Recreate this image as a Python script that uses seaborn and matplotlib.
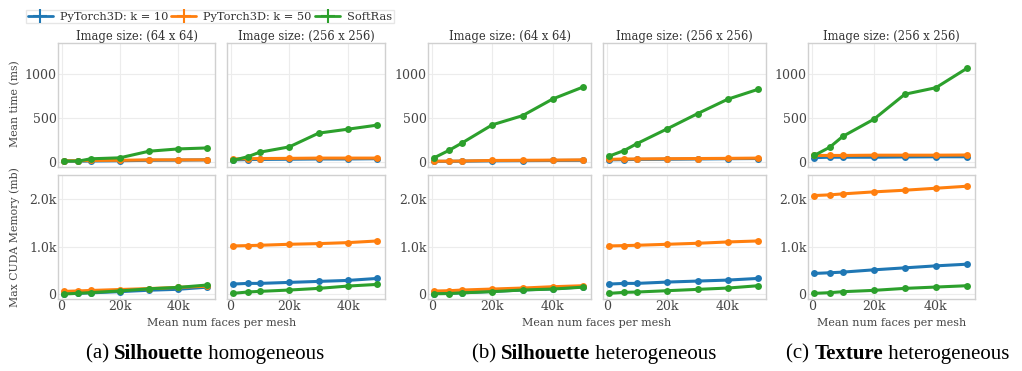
import matplotlib
matplotlib.use("Agg")
import matplotlib.pyplot as plt
import seaborn as sns
import pandas as pd
from matplotlib.lines import Line2D
from matplotlib.ticker import FuncFormatter, FixedLocator

# --- data ---
faces = [800, 5800, 10000, 20000, 30000, 40000, 50000]
methods = ["PyTorch3D: k = 10", "PyTorch3D: k = 50", "SoftRas"]
palette = ["#1f77b4", "#ff7f0e", "#2ca02c"]

# mean time (ms): [k=10, k=50, SoftRas]
time_sil_hom_64 = [[10, 10, 12, 15, 20, 22, 25],
                   [15, 15, 18, 20, 25, 25, 25],
                   [11, 11, 37, 48, 123, 149, 160]]
time_sil_hom_256 = [[25, 28, 30, 32, 35, 35, 38],
                    [35, 38, 40, 42, 45, 45, 45],
                    [19, 60, 112, 172, 328, 373, 419]]
time_sil_het_64 = [[8, 8, 10, 14, 16, 18, 20],
                   [10, 10, 12, 18, 20, 22, 25],
                   [48, 134, 216, 422, 526, 716, 851]]
time_sil_het_256 = [[25, 28, 30, 32, 35, 38, 40],
                    [30, 35, 35, 38, 40, 42, 45],
                    [67, 131, 209, 377, 549, 713, 825]]
time_tex_het_256 = [[50, 55, 55, 55, 58, 60, 60],
                    [75, 75, 75, 78, 78, 78, 80],
                    [75, 168, 291, 485, 769, 843, 1063]]

# max CUDA memory (mb): [k=10, k=50, SoftRas]
mem_sil_hom_64 = [[10, 15, 25, 50, 80, 100, 145],
                  [55, 65, 75, 95, 115, 140, 165],
                  [0, 15, 30, 65, 110, 140, 190]]
mem_sil_hom_256 = [[210, 224, 224, 245, 266, 287, 329],
                   [1014, 1021, 1028, 1049, 1063, 1084, 1119],
                   [14, 42, 56, 84, 119, 168, 203]]
mem_sil_het_64 = [[10, 15, 25, 55, 85, 110, 150],
                  [63, 70, 84, 105, 126, 154, 175],
                  [5, 10, 25, 50, 85, 105, 145]]
mem_sil_het_256 = [[210, 224, 224, 252, 273, 294, 329],
                   [1014, 1021, 1028, 1049, 1070, 1098, 1119],
                   [14, 35, 42, 70, 98, 126, 175]]
mem_tex_het_256 = [[434, 448, 462, 510, 552, 594, 629],
                   [2077, 2091, 2112, 2154, 2189, 2231, 2273],
                   [14, 28, 49, 77, 119, 147, 175]]

panel_titles = ["Image size: (64 x 64)", "Image size: (256 x 256)",
                "Image size: (64 x 64)", "Image size: (256 x 256)",
                "Image size: (256 x 256)"]
time_panels = [time_sil_hom_64, time_sil_hom_256, time_sil_het_64,
               time_sil_het_256, time_tex_het_256]
mem_panels = [mem_sil_hom_64, mem_sil_hom_256, mem_sil_het_64,
              mem_sil_het_256, mem_tex_het_256]


def to_long(series):
    rows = []
    for m, vals in zip(methods, series):
        for x, v in zip(faces, vals):
            rows.append({"faces": x, "value": v, "method": m})
    return pd.DataFrame(rows)


# --- theme ---
sns.set_theme(style="whitegrid")
plt.rcParams.update({
    "font.family": ["DejaVu Serif"],
    "axes.edgecolor": "#d0d0d0",
    "axes.linewidth": 1.0,
    "grid.color": "#ececec",
    "grid.linewidth": 0.8,
    "xtick.color": "#444444",
    "ytick.color": "#444444",
    "xtick.labelsize": 9,
    "ytick.labelsize": 9,
    "xtick.major.pad": 1,
    "ytick.major.pad": 1,
    "text.color": "#333333",
})

W, H = 1022, 371
fig = plt.figure(figsize=(W / 100, H / 100), dpi=100)
fig.patch.set_facecolor("white")

# pixel boxes of the five columns (left, right)
cols = [(58, 215), (227, 385), (428, 591), (603, 766), (808, 975)]
rows_px = [(43, 167), (175, 299)]


def add_px_axes(l, r, t, b):
    return fig.add_axes([l / W, 1 - b / H, (r - l) / W, (b - t) / H])


k_fmt = FuncFormatter(lambda v, p: "0" if v == 0 else f"{v/1000:.0f}k")
mem_fmt = FuncFormatter(lambda v, p: "0" if v == 0 else f"{v/1000:.1f}k")

for i, (l, r) in enumerate(cols):
    for j, (t, b) in enumerate(rows_px):
        ax = add_px_axes(l, r, t, b)
        series = time_panels[i] if j == 0 else mem_panels[i]
        sns.lineplot(data=to_long(series), x="faces", y="value", hue="method",
                     hue_order=methods, palette=palette, marker="o",
                     markersize=5, markeredgewidth=0, linewidth=2.2,
                     legend=False, ax=ax)
        ax.set_xlim(-1200, 52600)
        ax.xaxis.set_major_locator(FixedLocator([0, 20000, 40000]))
        ax.xaxis.set_major_formatter(k_fmt)
        if j == 0:
            ax.set_ylim(-56, 1350)
            ax.yaxis.set_major_locator(FixedLocator([0, 500, 1000]))
            ax.set_title(panel_titles[i], fontsize=8.3, pad=2, color="#333333")
            ax.tick_params(axis="x", labelbottom=False)
        else:
            ax.set_ylim(-105, 2510)
            ax.yaxis.set_major_locator(FixedLocator([0, 1000, 2000]))
            ax.yaxis.set_major_formatter(mem_fmt)
        if i in (1, 3):
            ax.tick_params(axis="y", labelleft=False)
        ax.tick_params(length=0)
        ax.set_xlabel("")
        ax.set_ylabel("")
        for s in ax.spines.values():
            s.set_visible(True)
            s.set_color("#d0d0d0")

# axis labels
fig.text(15 / W, 1 - 104 / H, "Mean time (ms)", rotation=90, ha="center",
         va="center", fontsize=7.8, color="#444444")
fig.text(15 / W, 1 - 237 / H, "Max CUDA Memory (mb)", rotation=90,
         ha="center", va="center", fontsize=7.8, color="#444444")
for cx in [(58 + 385) / 2, (428 + 766) / 2, (808 + 975) / 2]:
    fig.text(cx / W, 1 - 323 / H, "Mean num faces per mesh", ha="center",
             va="center", fontsize=8, color="#444444")

# legend
handles = [Line2D([], [], color=c, lw=2, marker="+", markersize=10,
                  markeredgewidth=1.5) for c in palette]
fig.legend(handles, methods, loc="upper left", bbox_to_anchor=(26 / W, 1 - 10 / H),
           ncol=3, fontsize=8.2, frameon=True, handlelength=2.2,
           handletextpad=0.6, columnspacing=0.3, borderpad=0.15,
           borderaxespad=0, edgecolor="#e0e0e0", fancybox=False)

# sub-figure captions with a bold word
renderer = fig.canvas.get_renderer()
captions = [(205, "(a) ", "Silhouette", " homogeneous"),
            (594, "(b) ", "Silhouette", " heterogeneous"),
            (898, "(c) ", "Texture", " heterogeneous")]
cap_y = 1 - 354 / H
for cx, a, bold, c in captions:
    parts = [(a, "normal"), (bold, "bold"), (c, "normal")]
    texts = [fig.text(0, cap_y, s, fontsize=15, fontweight=w, va="center",
                      family="Liberation Serif", color="black")
             for s, w in parts]
    widths = [t.get_window_extent(renderer).width for t in texts]
    x = cx - sum(widths) / 2
    for t, w in zip(texts, widths):
        t.set_x(x / W)
        x += w

fig.savefig("out.png", dpi=100)
